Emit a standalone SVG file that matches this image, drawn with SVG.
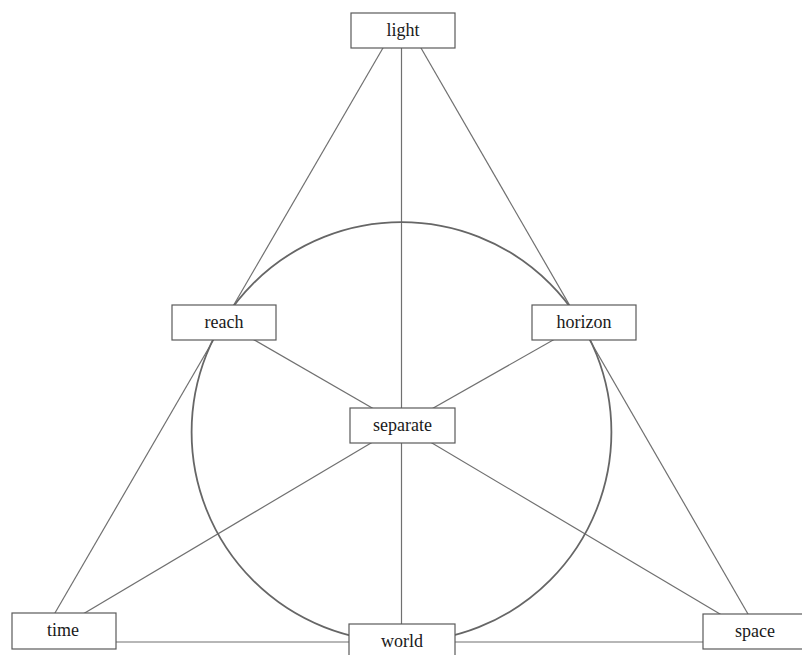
<svg xmlns="http://www.w3.org/2000/svg" width="802" height="655" viewBox="0 0 802 655">
<style>
.edge{stroke:#707070;stroke-width:1.2;fill:none}
.circ{stroke:#666666;stroke-width:1.8;fill:none}
.box{fill:#ffffff;stroke:#5a5a5a;stroke-width:1.2}
.lbl{font-family:'Liberation Serif','Times New Roman',serif;font-size:18px;fill:#1a1a1a;text-anchor:middle}
</style>
<rect width="802" height="655" fill="#ffffff"/>
<g id="connectors">
<line class="edge" x1="393.4" y1="30" x2="44.5" y2="631"/>
<line class="edge" x1="410.6" y1="30" x2="757.8" y2="631"/>
<line class="edge" x1="64" y1="642" x2="755" y2="642"/>
<line class="edge" x1="401.5" y1="30" x2="401.5" y2="641"/>
<line class="edge" x1="224" y1="322.5" x2="402.5" y2="425.5"/>
<line class="edge" x1="584" y1="322.5" x2="402.5" y2="425.5"/>
<line class="edge" x1="400.5" y1="425.5" x2="54.4" y2="631"/>
<line class="edge" x1="402.5" y1="425.5" x2="748.6" y2="631"/>
<circle class="circ" cx="401.5" cy="432" r="209.9"/>
</g>
<g id="light"><rect class="box" x="351" y="13" width="104" height="35"/><text class="lbl" font-family="Liberation Serif, serif" x="403" y="35.5">light</text></g>
<g id="reach"><rect class="box" x="172" y="305" width="104" height="35"/><text class="lbl" font-family="Liberation Serif, serif" x="224" y="327.5">reach</text></g>
<g id="horizon"><rect class="box" x="532" y="305" width="104" height="35"/><text class="lbl" font-family="Liberation Serif, serif" x="584" y="327.5">horizon</text></g>
<g id="separate"><rect class="box" x="350" y="408" width="105" height="35"/><text class="lbl" font-family="Liberation Serif, serif" x="402.5" y="430.5">separate</text></g>
<g id="time"><rect class="box" x="12" y="613" width="104" height="36"/><text class="lbl" font-family="Liberation Serif, serif" x="63" y="636">time</text></g>
<g id="world"><rect class="box" x="349" y="624" width="106" height="36"/><text class="lbl" font-family="Liberation Serif, serif" x="402" y="646.5">world</text></g>
<g id="space"><rect class="box" x="703" y="614" width="104" height="35"/><text class="lbl" font-family="Liberation Serif, serif" x="755" y="636.5">space</text></g>
</svg>
